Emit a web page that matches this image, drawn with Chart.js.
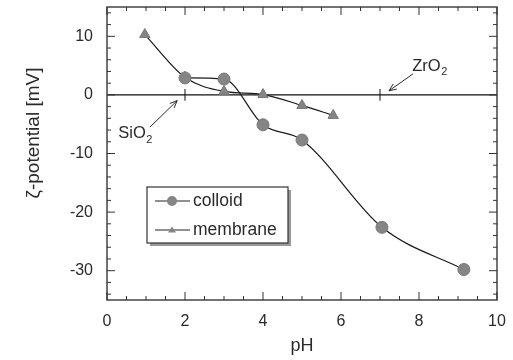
<!DOCTYPE html>
<html>
<head>
<meta charset="utf-8">
<script src="https://cdn.jsdelivr.net/npm/chart.js@4.4.1/dist/chart.umd.min.js"></script>
<style>
  html, body { margin: 0; padding: 0; background: #fff; }
  #wrap { width: 513px; height: 360px; }
</style>
</head>
<body>
<div id="wrap"><canvas id="chart"></canvas></div>
<script>
const PH_COLLOID = [2.0, 3.0, 4.0, 5.0, 7.05, 9.15];
const ZETA_COLLOID = [2.9, 2.7, -5.1, -7.7, -22.6, -29.8];
const PH_MEMBRANE = [0.97, 2.0, 3.0, 4.0, 5.0, 5.8];
const ZETA_MEMBRANE = [10.3, 3.0, 0.6, 0.05, -1.8, -3.5];

const X_TICKS = [0, 2, 4, 6, 8, 10];
const Y_TICKS = [-30, -20, -10, 0, 10];

// isoelectric points marked on the zero line
const IEP_NAMES = ["SiO", "ZrO"];
const IEP_PH = [2.0, 7.0];

const Y_TITLE = "ζ-potential [mV]";

const FONT = "'Liberation Sans', Arial, sans-serif";
const INK = "#2a2a2a";
const MARK = "#858585";

function pts(xs, ys) {
  return xs.map((x, i) => ({ x, y: ys[i] }));
}

function arrow(ctx, x1, y1, x2, y2) {
  const a = Math.atan2(y2 - y1, x2 - x1);
  const h = 8;
  ctx.beginPath();
  ctx.moveTo(x1, y1);
  ctx.lineTo(x2, y2);
  ctx.moveTo(x2 - h * Math.cos(a - 0.4), y2 - h * Math.sin(a - 0.4));
  ctx.lineTo(x2, y2);
  ctx.lineTo(x2 - h * Math.cos(a + 0.4), y2 - h * Math.sin(a + 0.4));
  ctx.stroke();
}

function subText(ctx, base, sub, cx, cy) {
  ctx.font = "16.5px " + FONT;
  const w1 = ctx.measureText(base).width;
  ctx.font = "11px " + FONT;
  const w2 = ctx.measureText(sub).width;
  const x0 = cx - (w1 + w2) / 2;
  ctx.textBaseline = "middle";
  ctx.textAlign = "left";
  ctx.font = "16.5px " + FONT;
  ctx.fillText(base, x0, cy);
  ctx.font = "11px " + FONT;
  ctx.fillText(sub, x0 + w1 + 0.5, cy + 6);
}

const underlay = {
  id: "underlay",
  beforeDatasetsDraw(chart) {
    const { ctx, chartArea: a, scales: { x, y } } = chart;
    ctx.save();
    ctx.strokeStyle = "#111";
    ctx.lineWidth = 1.3;
    const y0 = y.getPixelForValue(0);
    ctx.beginPath();
    ctx.moveTo(a.left, y0);
    ctx.lineTo(a.right, y0);
    ctx.stroke();
    ctx.lineWidth = 1;
    for (const ph of IEP_PH) {
      const px = x.getPixelForValue(ph);
      ctx.beginPath();
      ctx.moveTo(px, y.getPixelForValue(1));
      ctx.lineTo(px, y.getPixelForValue(-1));
      ctx.stroke();
    }
    ctx.restore();
  },
};

const overlay = {
  id: "overlay",
  afterDraw(chart) {
    const { ctx, chartArea: a, scales: { x, y } } = chart;
    ctx.save();

    // frame + inward ticks on all four sides
    ctx.strokeStyle = "#444";
    ctx.lineWidth = 1.5;
    ctx.strokeRect(a.left, a.top, a.right - a.left, a.bottom - a.top);
    ctx.lineWidth = 1;
    ctx.strokeStyle = "#333";
    for (let v = 0; v <= 10.001; v += 0.5) {
      const px = x.getPixelForValue(v);
      const len = Math.abs(v % 2) < 0.01 ? 8 : 4;
      ctx.beginPath();
      ctx.moveTo(px, a.bottom); ctx.lineTo(px, a.bottom - len);
      ctx.moveTo(px, a.top); ctx.lineTo(px, a.top + len);
      ctx.stroke();
    }
    for (let v = -34; v <= 14; v += 2) {
      const py = y.getPixelForValue(v);
      const len = v % 10 === 0 ? 8 : 4;
      ctx.beginPath();
      ctx.moveTo(a.left, py); ctx.lineTo(a.left + len, py);
      ctx.moveTo(a.right, py); ctx.lineTo(a.right - len, py);
      ctx.stroke();
    }

    // y axis title (sits above the axis centre in the original)
    ctx.fillStyle = INK;
    ctx.font = "19px " + FONT;
    ctx.textAlign = "center";
    ctx.textBaseline = "middle";
    ctx.translate(34, y.getPixelForValue(-6.5));
    ctx.rotate(-Math.PI / 2);
    ctx.fillText(Y_TITLE, 0, 0);
    ctx.setTransform(1, 0, 0, 1, 0, 0);

    // annotations
    ctx.strokeStyle = INK;
    ctx.lineWidth = 1;
    arrow(ctx, x.getPixelForValue(1.1), y.getPixelForValue(-5.5),
      x.getPixelForValue(1.8), y.getPixelForValue(-0.97));
    subText(ctx, IEP_NAMES[0], "2", x.getPixelForValue(0.72), y.getPixelForValue(-6.6));
    arrow(ctx, x.getPixelForValue(7.85), y.getPixelForValue(3.6),
      x.getPixelForValue(7.23), y.getPixelForValue(0.7));
    subText(ctx, IEP_NAMES[1], "2", x.getPixelForValue(8.27), y.getPixelForValue(4.9));

    // legend box
    const lx = 147, ly = 187, lw = 141, lh = 56;
    ctx.fillStyle = "#9a9a9a";
    ctx.fillRect(lx + 3, ly + 3, lw, lh);
    ctx.fillStyle = "#fff";
    ctx.fillRect(lx, ly, lw, lh);
    ctx.strokeStyle = "#333";
    ctx.lineWidth = 1.2;
    ctx.strokeRect(lx, ly, lw, lh);
    chart.data.datasets.forEach((ds, i) => {
      const cy = ly + 14 + i * 29;
      ctx.strokeStyle = "#222";
      ctx.lineWidth = 1.1;
      ctx.beginPath();
      ctx.moveTo(lx + 8, cy); ctx.lineTo(lx + 43, cy);
      ctx.stroke();
      ctx.fillStyle = MARK;
      ctx.beginPath();
      if (ds.pointStyle === "circle") {
        ctx.arc(lx + 25, cy, 5, 0, Math.PI * 2);
      } else {
        ctx.moveTo(lx + 25, cy - 3.5);
        ctx.lineTo(lx + 29, cy + 2.5);
        ctx.lineTo(lx + 21, cy + 2.5);
        ctx.closePath();
      }
      ctx.fill();
      ctx.fillStyle = INK;
      ctx.font = "17.5px " + FONT;
      ctx.textAlign = "left";
      ctx.textBaseline = "middle";
      ctx.fillText(ds.label, lx + 46, cy);
    });
    ctx.restore();
  },
};

new Chart(document.getElementById("chart"), {
  type: "line",
  data: {
    datasets: [
      {
        label: "colloid",
        data: pts(PH_COLLOID, ZETA_COLLOID),
        pointStyle: "circle",
        pointRadius: 6,
        pointBackgroundColor: MARK,
        pointBorderColor: "#777",
        pointBorderWidth: 1,
        borderColor: "#1a1a1a",
        borderWidth: 1.2,
        cubicInterpolationMode: "monotone",
      },
      {
        label: "membrane",
        data: pts(PH_MEMBRANE, ZETA_MEMBRANE),
        pointStyle: "triangle",
        pointRadius: 6,
        pointBackgroundColor: MARK,
        pointBorderColor: "#777",
        pointBorderWidth: 1,
        borderColor: "#1a1a1a",
        borderWidth: 1.2,
        cubicInterpolationMode: "monotone",
      },
    ],
  },
  options: {
    responsive: true,
    maintainAspectRatio: false,
    animation: false,
    layout: { padding: { left: 0, right: 16, top: 5, bottom: 0 } },
    plugins: { legend: { display: false }, tooltip: { enabled: false } },
    scales: {
      x: {
        type: "linear",
        min: 0,
        max: 10,
        afterBuildTicks: (axis) => { axis.ticks = X_TICKS.map((v) => ({ value: v })); },
        afterFit: (axis) => { axis.height = 60; axis.paddingLeft = 0; axis.paddingRight = 0; },
        grid: { display: false, drawTicks: false },
        border: { display: false },
        ticks: { color: INK, font: { family: FONT, size: 16 }, padding: 12, maxRotation: 0 },
        title: { display: true, text: "pH", color: INK, font: { family: FONT, size: 18 }, padding: { top: 0, bottom: 3 } },
      },
      y: {
        type: "linear",
        min: -35,
        max: 15,
        afterBuildTicks: (axis) => { axis.ticks = Y_TICKS.map((v) => ({ value: v })); },
        afterFit: (axis) => { axis.width = 107; axis.paddingTop = 0; axis.paddingBottom = 0; },
        grid: { display: false, drawTicks: false },
        border: { display: false },
        ticks: { color: INK, font: { family: FONT, size: 16 }, padding: 14 },
        title: { display: false },
      },
    },
  },
  plugins: [underlay, overlay],
});
</script>
</body>
</html>
